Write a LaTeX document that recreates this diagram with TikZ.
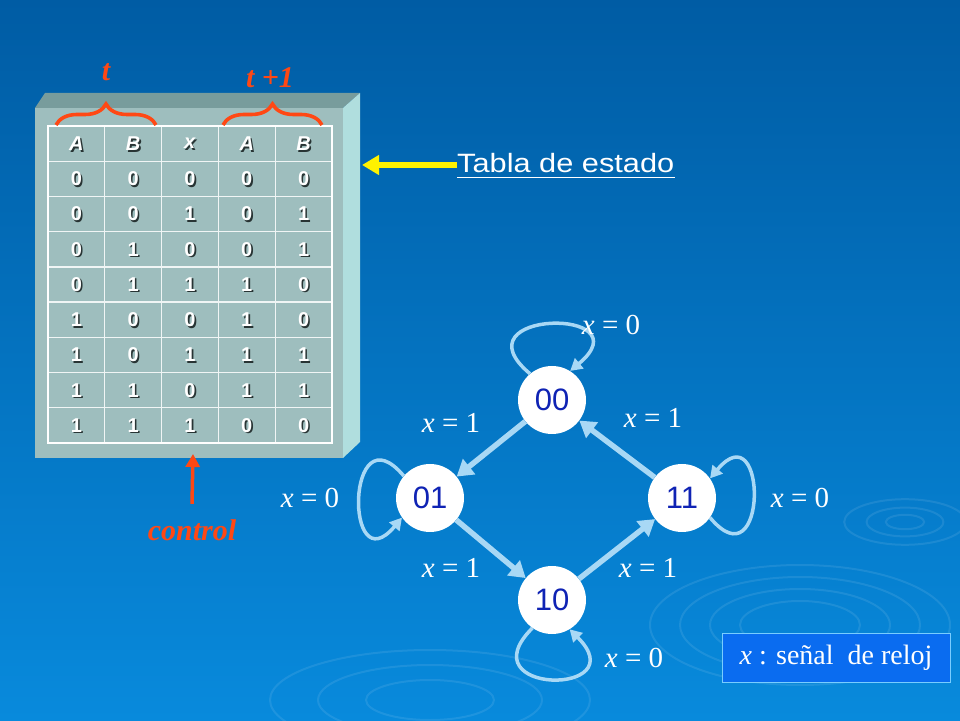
\documentclass[tikz,border=0pt]{standalone}
\usepackage{fontspec}
\setmainfont{Liberation Serif}
\newfontfamily\arialfont{Liberation Sans}
\usepackage{xcolor}
\usetikzlibrary{arrows.meta,decorations.pathreplacing}

\definecolor{bgtop}{RGB}{0,92,164}
\definecolor{bgbottom}{RGB}{8,138,220}
\definecolor{boxfront}{RGB}{158,190,190}
\definecolor{boxtop}{RGB}{120,156,156}
\definecolor{boxside}{RGB}{176,222,222}
\definecolor{markred}{RGB}{255,72,20}
\definecolor{edgeblue}{RGB}{168,216,245}
\definecolor{stateblue}{RGB}{15,35,180}
\definecolor{legendblue}{RGB}{10,108,240}
\definecolor{legendedge}{RGB}{120,205,255}
\definecolor{cellshadow}{RGB}{40,52,52}

\begin{document}
\begin{tikzpicture}[x=1pt,y=1pt,
  cell/.style={font=\arialfont\bfseries\fontsize{20}{20}\selectfont, text=white},
  cellshade/.style={cell, text=cellshadow},
  gridline/.style={draw=white!85!boxfront, line width=1.3pt},
  brace/.style={draw=markred, line width=3.6pt, decorate,
    decoration={brace, amplitude=21pt}},
  tlabel/.style={font=\bfseries\itshape\fontsize{30}{30}\selectfont, text=markred},
  state/.style={circle, fill=white, minimum size=68pt, inner sep=0pt,
    font=\arialfont\fontsize{31}{31}\selectfont, text=stateblue},
  trans/.style={draw=edgeblue, line width=5.5pt, -{Triangle[length=16pt,width=19pt]}},
  selfloop/.style={draw=edgeblue, line width=3.5pt, -{Triangle[length=12pt,width=13pt]}},
  cond/.style={font=\fontsize{29}{29}\selectfont, text=white},
  ripple/.style={draw=white, opacity=0.09, line width=2pt}]
\useasboundingbox (0,0) rectangle (960,720);
% background
\shade[top color=bgtop, bottom color=bgbottom] (0,0) rectangle (960,720);
\foreach \r in {12,24,38} \draw[ripple] (905,198) ellipse ({\r*1.6} and \r*0.6);
\foreach \r in {40,60,80,100} \draw[ripple] (800,95) ellipse ({\r*1.5} and \r*0.6);
\foreach \r in {40,70,100} \draw[ripple] (430,20) ellipse ({\r*1.6} and \r*0.5);

% 3D box with the state table
\fill[boxtop] (35,612) -- (45,627) -- (360,627) -- (343,612) -- cycle;
\fill[boxside] (343,612) -- (360,627) -- (360,278) -- (343,262) -- cycle;
\fill[boxfront] (35,262) rectangle (343,612);
\foreach \i in {1,...,4}
  \draw[gridline] ({48+56.8*\i},277) -- ({48+56.8*\i},594);
\foreach \j in {1,...,8}
  \draw[gridline] (48,{277+35.22*\j}) -- (332,{277+35.22*\j});
\draw[white, line width=2.5pt] (48,277) rectangle (332,594);
\foreach \h [count=\c] in {A,B,x,A,B} {
  \node[cellshade] (hs-\c) at ({48+56.8*(\c-0.5)+1.6},{594-35.22*0.5-1.6}) {\textit{\h}};
  \node[cell] (h-\c) at ({48+56.8*(\c-0.5)},{594-35.22*0.5}) {\textit{\h}};
}
\foreach \row [count=\r] in {{0,0,0,0,0},{0,0,1,0,1},{0,1,0,0,1},{0,1,1,1,0},
    {1,0,0,1,0},{1,0,1,1,1},{1,1,0,1,1},{1,1,1,0,0}}
  \foreach \v [count=\c] in \row {
    \node[cellshade] (s-\r-\c) at ({48+56.8*(\c-0.5)+1.6},{594-35.22*(\r+0.5)-1.6}) {\v};
    \node[cell] (c-\r-\c) at ({48+56.8*(\c-0.5)},{594-35.22*(\r+0.5)}) {\v};
  }

% braces t and t+1
\draw[brace] (56,595) -- (156,595);
\draw[brace] (223,595) -- (322,595);
\node[tlabel] (t) at (106,648) {t};
\node[tlabel] (t1) at (270,642) {t +1};

% pointer to the table
\node[anchor=west, inner sep=0pt, text=white, xscale=1.16, transform shape,
  font=\arialfont\fontsize{26.5}{26.5}\selectfont] (tabla) at (457,557) {Tabla de estado};
\draw[white, line width=1.8pt] ([yshift=-5pt]tabla.base west) -- ([yshift=-5pt]tabla.base east);
\coordinate (boxedge) at (362,555);
\draw[yellow, line width=5.5pt, -{Triangle[length=17pt,width=19pt]}] (tabla.west |- boxedge) -- (boxedge);

% control input
\node[tlabel] (control) at (192,190) {control};
\coordinate (boxbottom) at (193,266);
\draw[markred, line width=3.5pt, -{Triangle[length=13pt,width=14pt]}] ([yshift=12pt]control.north) -- (boxbottom);

% state diagram
\node[state] (n00) at (552,320) {00};
\node[state] (n01) at (430,222) {01};
\node[state] (n11) at (682,222) {11};
\node[state] (n10) at (552,120) {10};
\draw[trans] (n00) -- (n01);
\draw[trans] (n01) -- (n10);
\draw[trans] (n10) -- (n11);
\draw[trans] (n11) -- (n00);
\draw[selfloop] (n00.130) .. controls +(140:100) and +(40:100) .. (n00.58);
\draw[selfloop] (n01.140) .. controls +(130:90) and +(230:90) .. (n01.215);
\draw[selfloop] (n11.-35) .. controls +(-50:90) and +(50:90) .. (n11.35);
\draw[selfloop] (n10.235) .. controls +(225:95) and +(315:95) .. (n10.301);
\node[cond] (l00) at (611,395) {\textit{x} = 0};
\node[cond] (l0001) at (451,297) {\textit{x} = 1};
\node[cond] (l1100) at (653,302) {\textit{x} = 1};
\node[cond] (l01) at (310,222) {\textit{x} = 0};
\node[cond] (l11) at (800,222) {\textit{x} = 0};
\node[cond] (l0110) at (451,152) {\textit{x} = 1};
\node[cond] (l1011) at (648,152) {\textit{x} = 1};
\node[cond] (l10) at (634,62) {\textit{x} = 0};

% legend
\node[draw=legendedge, fill=legendblue, line width=1pt, minimum width=228pt,
  minimum height=49pt, text=white, font=\fontsize{28}{28}\selectfont]
  (leyenda) at (836,62) {\textit{x} : señal\ \ de reloj};
\end{tikzpicture}
\end{document}
